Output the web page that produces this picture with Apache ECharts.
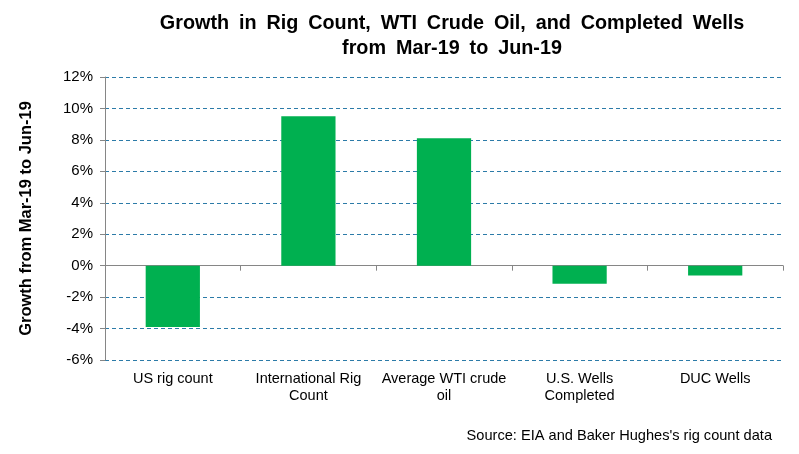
<!DOCTYPE html>
<html><head><meta charset="utf-8">
<script src="https://cdn.jsdelivr.net/npm/echarts@6/dist/echarts.min.js"></script>
<style>html,body{margin:0;padding:0;background:#fff}#c{width:799px;height:454px}</style>
</head><body><div id="c"></div>
<script>
const categories = ['US rig count', 'International Rig\nCount', 'Average WTI crude\noil', 'U.S. Wells\nCompleted', 'DUC Wells'];
const growthValues = [-3.9, 9.5, 8.1, -1.15, -0.62];
const yTicks = {min: -6, max: 12, interval: 2};

const chart = echarts.init(document.getElementById('c'), null, {renderer: 'canvas'});
const font = 'Arial, "Liberation Sans", sans-serif';
const sp = '\u2002';
const titleText = ['Growth', 'in', 'Rig', 'Count,', 'WTI', 'Crude', 'Oil,', 'and', 'Completed', 'Wells'].join(sp) +
  '\n' + ['from', 'Mar-19', 'to', 'Jun-19'].join(sp);
chart.setOption({
  animation: false,
  backgroundColor: '#fff',
  title: {
    text: titleText,
    left: 447, top: 6, textAlign: 'center',
    textStyle: {fontFamily: font, fontWeight: 'bold', fontSize: 19.8, lineHeight: 25, color: '#000'}
  },
  graphic: [{
    type: 'text', right: 27, top: 428,
    style: {text: "Source: EIA and Baker Hughes's rig count data", fontFamily: font, fontSize: 14.6, fill: '#000'}
  }],
  grid: {left: 105, right: 16, top: 77, bottom: 94},
  xAxis: [{
    type: 'category', data: categories, position: 'bottom',
    axisLine: {onZero: true, lineStyle: {color: '#868686', width: 1}},
    axisTick: {show: true, length: 5, inside: false, alignWithLabel: false, lineStyle: {color: '#868686'}},
    axisLabel: {show: false}, splitLine: {show: false}
  }, {
    type: 'category', data: categories, position: 'bottom',
    axisLine: {show: false, onZero: false}, axisTick: {show: false},
    axisLabel: {show: true, interval: 0, margin: 11, fontFamily: font, fontSize: 14.5, lineHeight: 16.5, color: '#000'},
    splitLine: {show: false}
  }],
  yAxis: {
    type: 'value', min: yTicks.min, max: yTicks.max, interval: yTicks.interval,
    name: 'Growth from Mar-19 to Jun-19', nameLocation: 'middle', nameGap: 70, nameRotate: 90,
    nameTextStyle: {fontFamily: font, fontWeight: 'bold', fontSize: 16.5, color: '#000'},
    axisLine: {show: true, lineStyle: {color: '#868686'}},
    axisTick: {show: true, length: 5, lineStyle: {color: '#868686'}},
    axisLabel: {formatter: v => v + '%', fontFamily: font, fontSize: 15, color: '#000', margin: 12},
    splitLine: {show: true, lineStyle: {color: '#2C7BA8', type: [4, 3], width: 1}}
  },
  series: [{
    type: 'bar', data: growthValues, xAxisIndex: 0, barWidth: '40%',
    itemStyle: {color: '#00B050'}
  }]
});
</script></body></html>
